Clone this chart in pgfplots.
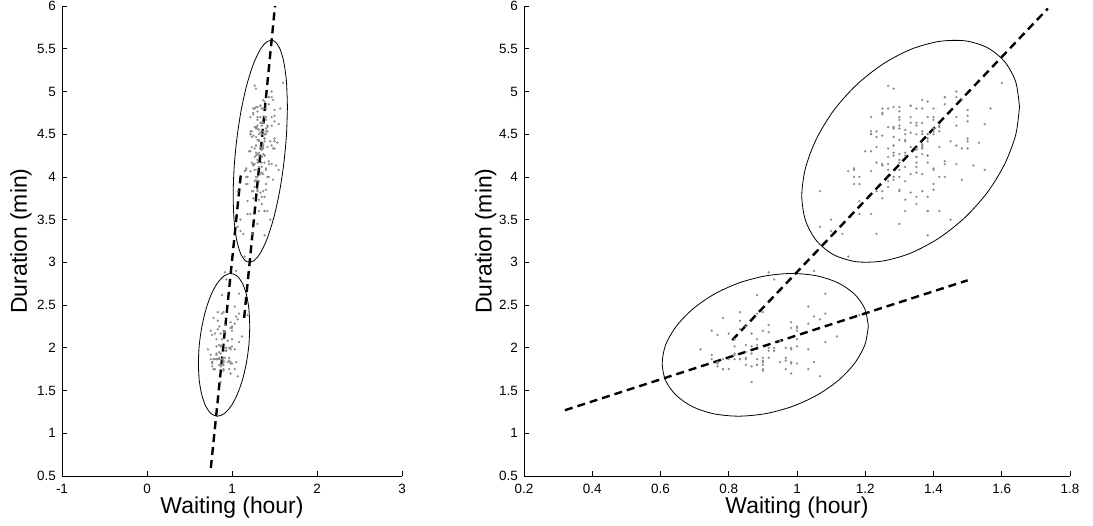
\documentclass[border=0pt]{standalone}
\usepackage{fontspec}
\setmainfont{Liberation Sans}
\usepackage{pgfplots}
\usepackage{pgfplotstable}
\pgfplotsset{compat=1.18}
\definecolor{dotgray}{RGB}{140,140,140}

% Old Faithful: waiting (hour), duration (min)
\pgfplotstableread[row sep=\\]{
x y\\
1.317 3.600\\ 0.900 1.800\\ 1.233 3.333\\ 1.033 2.283\\ 1.417 4.533\\ 0.917 2.883\\ 1.467 4.700\\ 1.417 3.600\\
0.850 1.950\\ 1.417 4.350\\ 0.900 1.833\\ 1.400 3.917\\ 1.300 4.200\\ 0.783 1.750\\ 1.383 4.700\\ 0.867 2.167\\
1.033 1.750\\ 1.400 4.800\\ 0.867 1.600\\ 1.317 4.250\\ 0.850 1.800\\ 0.783 1.750\\ 1.300 3.450\\ 1.150 3.067\\
1.233 4.533\\ 1.383 3.600\\ 0.917 1.967\\ 1.267 4.083\\ 1.300 3.850\\ 1.317 4.433\\ 1.217 4.300\\ 1.283 4.467\\
1.100 3.367\\ 1.333 4.033\\ 1.233 3.833\\ 0.867 2.017\\ 0.800 1.867\\ 1.333 4.833\\ 0.983 1.833\\ 1.500 4.783\\
1.333 4.350\\ 0.967 1.883\\ 1.400 4.567\\ 0.967 1.750\\ 1.217 4.533\\ 1.383 3.317\\ 1.067 3.833\\ 0.883 2.100\\
1.367 4.633\\ 0.983 2.000\\ 1.250 4.800\\ 1.500 4.716\\ 0.900 1.833\\ 1.333 4.833\\ 0.900 1.733\\ 1.383 4.883\\
1.183 3.717\\ 1.067 1.667\\ 1.283 4.567\\ 1.350 4.317\\ 0.983 2.233\\ 1.400 4.500\\ 0.800 1.750\\ 1.367 4.800\\
1.000 1.817\\ 1.533 4.400\\ 1.300 4.167\\ 1.300 4.700\\ 1.083 2.067\\ 1.217 4.700\\ 1.367 4.033\\ 0.933 1.967\\
1.317 4.500\\ 1.183 4.000\\ 1.033 1.983\\ 1.267 5.067\\ 1.000 2.017\\ 1.300 4.567\\ 1.267 3.883\\ 1.383 3.600\\
1.250 4.133\\ 1.367 4.333\\ 1.167 4.100\\ 1.083 2.633\\ 1.217 4.067\\ 1.467 4.933\\ 1.267 3.950\\ 1.333 4.517\\
0.800 2.167\\ 1.433 4.000\\ 1.000 2.200\\ 1.500 4.333\\ 0.833 1.867\\ 1.300 4.817\\ 1.050 1.833\\ 1.200 4.300\\
1.400 4.667\\ 1.250 3.750\\ 0.850 1.867\\ 1.367 4.900\\ 1.033 2.483\\ 1.467 4.367\\ 0.817 2.100\\ 1.383 4.500\\
1.350 4.050\\ 0.783 1.867\\ 1.400 4.700\\ 0.867 1.783\\ 1.433 4.850\\ 1.350 3.683\\ 1.250 4.733\\ 0.983 2.300\\
1.483 4.900\\ 1.317 4.417\\ 0.983 1.700\\ 1.350 4.633\\ 0.833 2.317\\ 1.417 4.600\\ 0.983 1.817\\ 1.450 4.417\\
0.883 2.617\\ 1.150 4.067\\ 1.283 4.250\\ 0.933 1.967\\ 1.467 4.600\\ 1.350 3.767\\ 0.750 1.917\\ 1.367 4.500\\
0.917 2.267\\ 1.500 4.650\\ 0.750 1.867\\ 1.383 4.167\\ 0.933 2.800\\ 1.483 4.333\\ 0.767 1.833\\ 1.367 4.383\\
0.850 1.883\\ 1.433 4.933\\ 0.883 2.033\\ 1.317 3.733\\ 1.350 4.233\\ 1.000 2.233\\ 1.367 4.533\\ 1.283 4.817\\
1.267 4.333\\ 0.983 1.983\\ 1.333 4.633\\ 0.817 2.017\\ 1.600 5.100\\ 0.883 1.800\\ 1.283 5.033\\ 1.283 4.000\\
1.083 2.400\\ 1.350 4.600\\ 1.183 3.567\\ 1.167 4.000\\ 1.350 4.500\\ 1.550 4.083\\ 0.883 1.800\\ 1.483 3.967\\
0.750 2.200\\ 1.433 4.150\\ 0.967 2.000\\ 1.300 3.833\\ 1.100 3.500\\ 1.267 4.583\\ 1.050 2.367\\ 1.467 5.000\\
0.867 1.933\\ 1.550 4.617\\ 0.817 1.917\\ 0.950 2.083\\ 1.283 4.583\\ 1.133 3.333\\ 1.350 4.167\\ 1.350 4.333\\
1.217 4.500\\ 0.833 2.417\\ 1.417 4.000\\ 1.233 4.167\\ 0.917 1.883\\ 1.283 4.583\\ 1.383 4.250\\ 1.383 3.767\\
0.850 2.033\\ 1.300 4.433\\ 1.400 4.083\\ 0.767 1.833\\ 1.383 4.417\\ 0.917 2.183\\ 1.350 4.800\\ 0.950 1.833\\
1.267 4.800\\ 1.400 4.100\\ 1.283 3.966\\ 1.350 4.233\\ 1.450 3.500\\ 1.283 4.366\\ 0.850 2.250\\ 1.300 4.667\\
1.000 2.100\\ 1.367 4.350\\ 1.517 4.133\\ 0.883 1.867\\ 1.300 4.600\\ 0.767 1.783\\ 1.283 4.367\\ 1.400 3.850\\
0.817 1.933\\ 1.383 4.500\\ 1.183 2.383\\ 1.333 4.700\\ 0.817 1.867\\ 1.250 3.833\\ 1.067 3.417\\ 1.267 4.233\\
0.883 2.400\\ 1.567 4.800\\ 0.917 2.000\\ 1.267 4.150\\ 0.833 1.867\\ 1.367 4.267\\ 0.900 1.750\\ 1.250 4.483\\
1.300 4.000\\ 1.317 4.117\\ 1.300 4.083\\ 1.300 4.267\\ 1.167 3.917\\ 1.317 4.550\\ 1.167 4.083\\ 0.900 2.417\\
1.433 4.183\\ 0.833 2.217\\ 1.500 4.450\\ 0.900 1.883\\ 0.900 1.850\\ 1.283 4.283\\ 1.317 3.950\\ 1.067 2.333\\
1.250 4.150\\ 0.783 2.350\\ 1.433 4.933\\ 1.050 2.900\\ 1.417 4.583\\ 1.367 3.833\\ 0.950 2.083\\ 1.367 4.367\\
1.117 2.133\\ 1.233 4.350\\ 0.900 2.200\\ 1.383 4.450\\ 1.217 3.567\\ 1.217 4.500\\ 1.467 4.150\\ 1.333 3.817\\
1.183 3.917\\ 1.383 4.450\\ 0.933 2.000\\ 1.317 4.283\\ 1.300 4.767\\ 1.400 4.533\\ 0.967 1.850\\ 1.383 4.250\\
0.717 1.983\\ 1.000 2.250\\ 1.250 4.750\\ 1.350 4.117\\ 0.767 2.150\\ 1.500 4.417\\ 0.767 1.817\\ 1.233 4.467\\
}\faithful

% Gaussian contour ellipses
\pgfplotstableread[row sep=\\]{
x y\\
1.652 4.820\\ 1.641 5.111\\ 1.609 5.346\\ 1.559 5.510\\ 1.493 5.592\\ 1.416 5.585\\ 1.333 5.492\\ 1.250 5.316\\
1.173 5.072\\ 1.107 4.775\\ 1.057 4.446\\ 1.025 4.106\\ 1.014 3.780\\ 1.025 3.489\\ 1.057 3.254\\ 1.107 3.090\\
1.173 3.008\\ 1.250 3.015\\ 1.333 3.108\\ 1.416 3.284\\ 1.493 3.528\\ 1.559 3.825\\ 1.609 4.154\\ 1.641 4.494\\
1.652 4.820\\
}\ellipseup

\pgfplotstableread[row sep=\\]{
x y\\
1.209 2.252\\ 1.199 2.453\\ 1.169 2.626\\ 1.121 2.759\\ 1.058 2.842\\ 0.985 2.870\\ 0.907 2.841\\ 0.829 2.758\\
0.756 2.625\\ 0.694 2.452\\ 0.646 2.250\\ 0.615 2.034\\ 0.605 1.818\\ 0.615 1.617\\ 0.646 1.444\\ 0.694 1.311\\
0.756 1.228\\ 0.829 1.200\\ 0.907 1.229\\ 0.985 1.312\\ 1.058 1.445\\ 1.121 1.618\\ 1.169 1.820\\ 1.199 2.036\\
1.209 2.252\\
}\ellipselow

\pgfplotsset{
  matlab/.style={
    scale only axis,
    axis x line*=bottom, axis y line*=left,
    ymin=0.5, ymax=6,
    ytick={0.5,1,1.5,2,2.5,3,3.5,4,4.5,5,5.5,6},
    yticklabels={0.5,1,1.5,2,2.5,3,3.5,4,4.5,5,5.5,6},
    tick align=inside,
    major tick length=5bp,
    axis line style={line width=0.8bp},
    every tick/.style={black, line width=0.8bp},
    tick label style={font=\fontsize{13.5}{15}\selectfont},
    label style={font=\fontsize{23}{26}\selectfont},
    xticklabel style={inner sep=0bp, yshift=-8bp},
    yticklabel style={inner sep=0bp, xshift=-6bp},
    xlabel style={at={(axis description cs:0.5,0)}, anchor=base, yshift=-37bp},
    xlabel={Waiting (hour)},
    ylabel={Duration (min)},
    clip=true,
  },
  dots/.style={only marks, mark=*, mark size=1.05bp, dotgray, line width=0.2bp},
  ell/.style={black, line width=0.8bp, smooth, mark=none},
  fit/.style={black, line width=2.4bp, dash pattern=on 8bp off 5bp, mark=none},
}

\begin{document}
\begin{tikzpicture}
\path[use as bounding box] (0,0) rectangle (1093bp,526bp);

\begin{axis}[matlab,
  at={(62bp,50bp)}, anchor=south west,
  width=340bp, height=470bp,
  xmin=-1, xmax=3,
  xtick={-1,0,1,2,3}, xticklabels={-1,0,1,2,3},
  ylabel style={at={(axis description cs:-0.103,0.5)}, anchor=base},
]
\addplot[dots] table {\faithful};
\addplot[ell] table {\ellipseup};
\addplot[ell] table {\ellipselow};
\addplot[fit] coordinates {(1.143,2.350) (1.506,6.000)};
\addplot[fit] coordinates {(0.751,0.594) (1.103,4.019)};
\end{axis}

\begin{axis}[matlab,
  at={(524bp,50bp)}, anchor=south west,
  width=546bp, height=470bp,
  xmin=0.2, xmax=1.8,
  xtick={0.2,0.4,0.6,0.8,1,1.2,1.4,1.6,1.8},
  xticklabels={0.2,0.4,0.6,0.8,1,1.2,1.4,1.6,1.8},
  ylabel style={at={(axis description cs:-0.0595,0.5)}, anchor=base},
]
\addplot[dots] table {\faithful};
\addplot[ell] table {\ellipseup};
\addplot[ell] table {\ellipselow};
\addplot[fit] coordinates {(0.810,2.090) (1.735,5.970)};
\addplot[fit] coordinates {(0.320,1.270) (1.500,2.790)};
\end{axis}
\end{tikzpicture}
\end{document}
